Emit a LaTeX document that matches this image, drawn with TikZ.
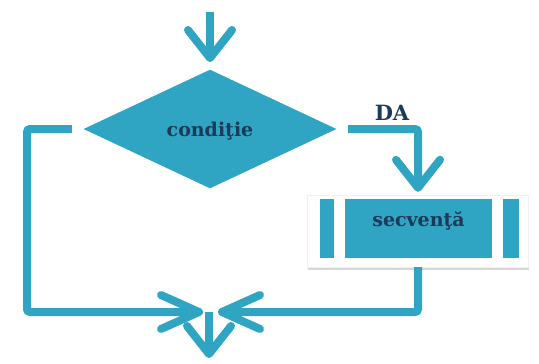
\documentclass[tikz,border=0pt]{standalone}
\usepackage{fontspec}
\setmainfont{DejaVu Serif}
\usepackage{xcolor}
\usetikzlibrary{shapes.geometric}
\usetikzlibrary{arrows.meta}
\usetikzlibrary{shadows}
\definecolor{flowColor}{HTML}{2FA4C3}
\definecolor{labelTextColor}{HTML}{1B3A57}
\definecolor{shadowColor}{HTML}{8C8C8C}
\def\textCond{condiţie}
\def\textSeq{secvenţă}
\def\textYes{DA}

\tikzset{
  flow/.style={color=flowColor, line width=8bp, rounded corners=3bp,
    -{Straight Barb[length=28bp, width=44bp, round]}},
  merge/.style={flow, -{Straight Barb[length=38bp, width=34bp, round]}},
  labeltext/.style={text=labelTextColor, inner sep=0pt,
    font=\bfseries\fontsize{19bp}{22bp}\selectfont},
  decision/.style={diamond, fill=flowColor, draw=white, line width=6bp,
    minimum width=270bp, minimum height=128bp, inner sep=0pt,
    drop shadow={shadow xshift=0bp, shadow yshift=-3bp, opacity=.2, fill=shadowColor}},
  seqbox/.style={rectangle, fill=white, draw=black!6, inner sep=0pt,
    minimum width=221bp, minimum height=72bp,
    drop shadow={shadow xshift=0bp, shadow yshift=-3bp, opacity=.35, fill=shadowColor}},
  seqbar/.style={rectangle, fill=flowColor, inner sep=0pt, minimum height=59bp}
}

\begin{document}
\begin{tikzpicture}[x=1bp,y=-1bp]
\useasboundingbox (0,0) rectangle (539,363);

% shapes layer
\begin{scope}
\node[decision] (cond) at (210,129) {};
\node[labeltext] (condtext) at ([yshift=-2bp]cond.center) {\textCond};
\node[seqbox] (seq) at (418,231) {};
\node[seqbar, minimum width=14bp] (seqleft) at ([shift={(-91,-2.5)}]seq.center) {};
\node[seqbar, minimum width=147bp] (seqbody) at ([shift={(0.5,-2.5)}]seq.center) {};
\node[seqbar, minimum width=16bp] (seqright) at ([shift={(93,-2.5)}]seq.center) {};
\node[labeltext] (seqtext) at ([yshift=8bp]seqbody.center) {\textSeq};
\node[labeltext, font=\bfseries\fontsize{21bp}{24bp}\selectfont] (yes) at (392,113) {\textYes};
\end{scope}

% link layer
\begin{scope}
\coordinate (start) at (cond.north |- 0,12);
\coordinate (lcorner) at (27,312);
\coordinate (join) at (209,312);
\coordinate (finish) at (209,358);
\draw[flow] (start) -- (cond.north);
\draw[flow, shorten >=3bp] (cond.east) -| (seq.north);
\draw[merge, shorten >=6bp] (cond.west) -| (lcorner) -- (join);
\draw[merge, shorten >=9bp] (seq.south) |- (join);
\draw[flow] (join) -- (finish);
\end{scope}

\end{tikzpicture}
\end{document}
